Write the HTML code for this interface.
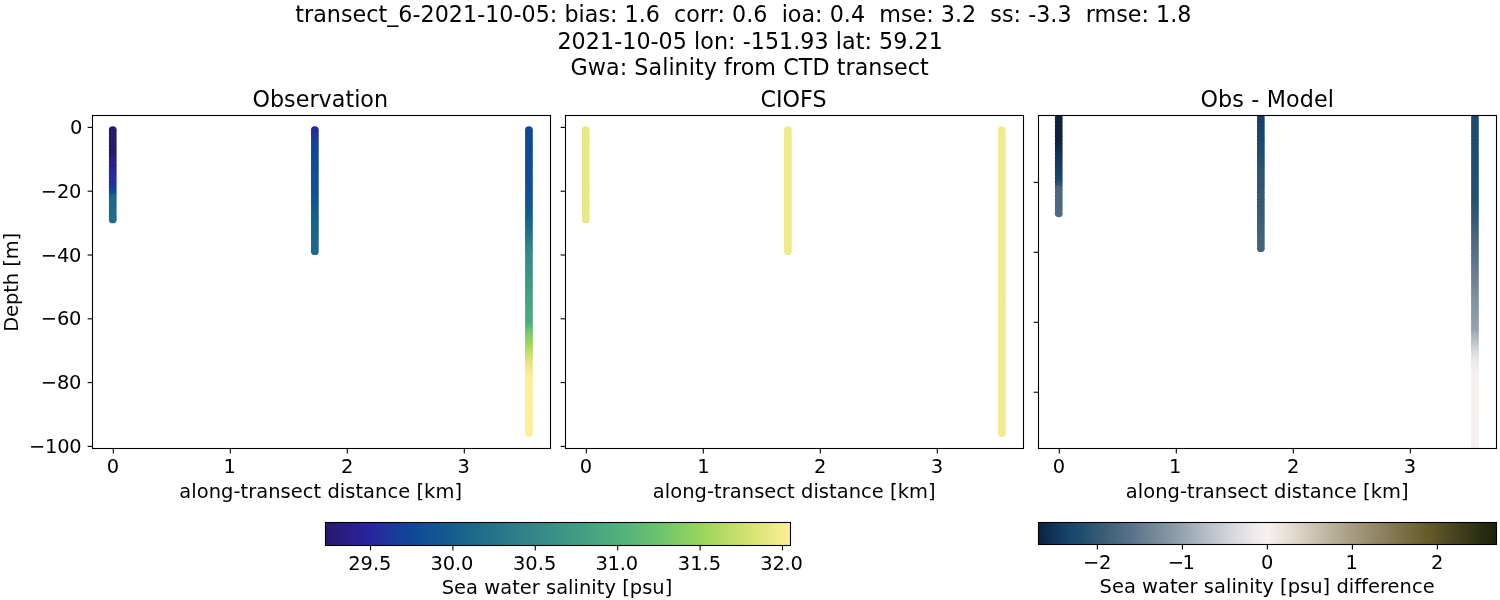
<!DOCTYPE html>
<html lang="en"><head><meta charset="utf-8"><title>transect_6-2021-10-05</title>
<style>html,body{margin:0;padding:0;background:#fff;}body{width:1500px;height:600px;overflow:hidden;}svg{display:block;}text{font-family:"DejaVu Sans", "Liberation Sans", sans-serif;fill:#000;}</style></head><body>
<svg width="1500" height="600" viewBox="0 0 1500 600">
<rect width="1500" height="600" fill="#fff"/>
<defs>
<linearGradient id="gh" x1="0" y1="0" x2="1" y2="0">
<stop offset="0.0000" stop-color="#29186b"/>
<stop offset="0.0156" stop-color="#291a74"/>
<stop offset="0.0312" stop-color="#291c7d"/>
<stop offset="0.0469" stop-color="#2a1e86"/>
<stop offset="0.0625" stop-color="#2a208f"/>
<stop offset="0.0781" stop-color="#2a2199"/>
<stop offset="0.0938" stop-color="#2924a0"/>
<stop offset="0.1094" stop-color="#252a9f"/>
<stop offset="0.1250" stop-color="#20309d"/>
<stop offset="0.1406" stop-color="#1b379c"/>
<stop offset="0.1562" stop-color="#173d9b"/>
<stop offset="0.1719" stop-color="#12439a"/>
<stop offset="0.1875" stop-color="#0f4898"/>
<stop offset="0.2031" stop-color="#104d96"/>
<stop offset="0.2188" stop-color="#105195"/>
<stop offset="0.2344" stop-color="#115593"/>
<stop offset="0.2500" stop-color="#115991"/>
<stop offset="0.2656" stop-color="#125d8f"/>
<stop offset="0.2812" stop-color="#14618e"/>
<stop offset="0.2969" stop-color="#17658d"/>
<stop offset="0.3125" stop-color="#1b688c"/>
<stop offset="0.3281" stop-color="#1e6c8b"/>
<stop offset="0.3438" stop-color="#226f8a"/>
<stop offset="0.3594" stop-color="#257389"/>
<stop offset="0.3750" stop-color="#287689"/>
<stop offset="0.3906" stop-color="#2a7a89"/>
<stop offset="0.4062" stop-color="#2d7d89"/>
<stop offset="0.4219" stop-color="#308188"/>
<stop offset="0.4375" stop-color="#328488"/>
<stop offset="0.4531" stop-color="#358888"/>
<stop offset="0.4688" stop-color="#378b88"/>
<stop offset="0.4844" stop-color="#398f87"/>
<stop offset="0.5000" stop-color="#3b9286"/>
<stop offset="0.5156" stop-color="#3d9686"/>
<stop offset="0.5312" stop-color="#3f9a85"/>
<stop offset="0.5469" stop-color="#419d85"/>
<stop offset="0.5625" stop-color="#44a183"/>
<stop offset="0.5781" stop-color="#47a582"/>
<stop offset="0.5938" stop-color="#4aa880"/>
<stop offset="0.6094" stop-color="#4cac7f"/>
<stop offset="0.6250" stop-color="#4faf7d"/>
<stop offset="0.6406" stop-color="#52b37b"/>
<stop offset="0.6562" stop-color="#58b678"/>
<stop offset="0.6719" stop-color="#5dba75"/>
<stop offset="0.6875" stop-color="#62bd72"/>
<stop offset="0.7031" stop-color="#67c170"/>
<stop offset="0.7188" stop-color="#6cc46d"/>
<stop offset="0.7344" stop-color="#73c76a"/>
<stop offset="0.7500" stop-color="#7bca67"/>
<stop offset="0.7656" stop-color="#84cd64"/>
<stop offset="0.7812" stop-color="#8cd062"/>
<stop offset="0.7969" stop-color="#95d25f"/>
<stop offset="0.8125" stop-color="#9dd55c"/>
<stop offset="0.8281" stop-color="#a6d75d"/>
<stop offset="0.8438" stop-color="#afd961"/>
<stop offset="0.8594" stop-color="#b8db65"/>
<stop offset="0.8750" stop-color="#c0dd68"/>
<stop offset="0.8906" stop-color="#c9df6c"/>
<stop offset="0.9062" stop-color="#d2e16f"/>
<stop offset="0.9219" stop-color="#dae376"/>
<stop offset="0.9375" stop-color="#e1e57d"/>
<stop offset="0.9531" stop-color="#e8e784"/>
<stop offset="0.9688" stop-color="#efea8b"/>
<stop offset="0.9844" stop-color="#f6ec92"/>
<stop offset="1.0000" stop-color="#fdee99"/>
</linearGradient>
<linearGradient id="gd" x1="0" y1="0" x2="1" y2="0">
<stop offset="0.0000" stop-color="#0b2340"/>
<stop offset="0.0156" stop-color="#0e2b4c"/>
<stop offset="0.0312" stop-color="#123358"/>
<stop offset="0.0469" stop-color="#143b60"/>
<stop offset="0.0625" stop-color="#174268"/>
<stop offset="0.0781" stop-color="#1a486c"/>
<stop offset="0.0938" stop-color="#1e4d6e"/>
<stop offset="0.1094" stop-color="#295371"/>
<stop offset="0.1250" stop-color="#325873"/>
<stop offset="0.1406" stop-color="#3a5d76"/>
<stop offset="0.1562" stop-color="#41637a"/>
<stop offset="0.1719" stop-color="#48687f"/>
<stop offset="0.1875" stop-color="#506d85"/>
<stop offset="0.2031" stop-color="#58728b"/>
<stop offset="0.2188" stop-color="#61798f"/>
<stop offset="0.2344" stop-color="#6a8093"/>
<stop offset="0.2500" stop-color="#728797"/>
<stop offset="0.2656" stop-color="#7a8e9d"/>
<stop offset="0.2812" stop-color="#8294a2"/>
<stop offset="0.2969" stop-color="#8b9ca8"/>
<stop offset="0.3125" stop-color="#94a3ae"/>
<stop offset="0.3281" stop-color="#9eabb5"/>
<stop offset="0.3438" stop-color="#a8b3bc"/>
<stop offset="0.3594" stop-color="#b2bac3"/>
<stop offset="0.3750" stop-color="#bbc2c9"/>
<stop offset="0.3906" stop-color="#c4c9d0"/>
<stop offset="0.4062" stop-color="#cdd1d6"/>
<stop offset="0.4219" stop-color="#d5d8dc"/>
<stop offset="0.4375" stop-color="#dddee1"/>
<stop offset="0.4531" stop-color="#e4e4e6"/>
<stop offset="0.4688" stop-color="#ece9ea"/>
<stop offset="0.4844" stop-color="#f1eeed"/>
<stop offset="0.5000" stop-color="#f6f1ef"/>
<stop offset="0.5156" stop-color="#f0ebe7"/>
<stop offset="0.5312" stop-color="#ebe5de"/>
<stop offset="0.5469" stop-color="#e5ded5"/>
<stop offset="0.5625" stop-color="#ded7cb"/>
<stop offset="0.5781" stop-color="#d7d0c1"/>
<stop offset="0.5938" stop-color="#d0c8b7"/>
<stop offset="0.6094" stop-color="#c8c0ad"/>
<stop offset="0.6250" stop-color="#c1b9a3"/>
<stop offset="0.6406" stop-color="#bab19a"/>
<stop offset="0.6562" stop-color="#b3aa91"/>
<stop offset="0.6719" stop-color="#aca288"/>
<stop offset="0.6875" stop-color="#a69b80"/>
<stop offset="0.7031" stop-color="#a09577"/>
<stop offset="0.7188" stop-color="#998e6f"/>
<stop offset="0.7344" stop-color="#938767"/>
<stop offset="0.7500" stop-color="#8e8261"/>
<stop offset="0.7656" stop-color="#877b57"/>
<stop offset="0.7812" stop-color="#80754c"/>
<stop offset="0.7969" stop-color="#7a6f44"/>
<stop offset="0.8125" stop-color="#75693d"/>
<stop offset="0.8281" stop-color="#6f6335"/>
<stop offset="0.8438" stop-color="#685c2b"/>
<stop offset="0.8594" stop-color="#615728"/>
<stop offset="0.8750" stop-color="#595225"/>
<stop offset="0.8906" stop-color="#504b23"/>
<stop offset="0.9062" stop-color="#484520"/>
<stop offset="0.9219" stop-color="#413e1d"/>
<stop offset="0.9375" stop-color="#393919"/>
<stop offset="0.9531" stop-color="#313316"/>
<stop offset="0.9688" stop-color="#292c12"/>
<stop offset="0.9844" stop-color="#22270f"/>
<stop offset="1.0000" stop-color="#1c220c"/>
</linearGradient>
<clipPath id="c0"><rect x="92.50" y="115.50" width="458.00" height="333.00"/></clipPath>
<clipPath id="c1"><rect x="565.50" y="115.50" width="458.00" height="333.00"/></clipPath>
<clipPath id="c2"><rect x="1038.50" y="115.50" width="458.00" height="333.00"/></clipPath>
</defs>
<g clip-path="url(#c0)">
<circle cx="112.75" cy="130.27" r="3.90" fill="#29186b"/>
<circle cx="112.75" cy="133.46" r="3.90" fill="#29186b"/>
<circle cx="112.75" cy="136.64" r="3.90" fill="#29186b"/>
<circle cx="112.75" cy="139.82" r="3.90" fill="#29186b"/>
<circle cx="112.75" cy="143.01" r="3.90" fill="#29186b"/>
<circle cx="112.75" cy="146.19" r="3.90" fill="#29186b"/>
<circle cx="112.75" cy="149.38" r="3.90" fill="#29186b"/>
<circle cx="112.75" cy="152.56" r="3.90" fill="#29186b"/>
<circle cx="112.75" cy="155.75" r="3.90" fill="#291971"/>
<circle cx="112.75" cy="158.93" r="3.90" fill="#291c7e"/>
<circle cx="112.75" cy="162.11" r="3.90" fill="#2a1e89"/>
<circle cx="112.75" cy="165.30" r="3.90" fill="#2a1f8f"/>
<circle cx="112.75" cy="168.48" r="3.90" fill="#2a2194"/>
<circle cx="112.75" cy="171.67" r="3.90" fill="#2a229b"/>
<circle cx="112.75" cy="174.85" r="3.90" fill="#2925a0"/>
<circle cx="112.75" cy="178.04" r="3.90" fill="#252a9f"/>
<circle cx="112.75" cy="181.22" r="3.90" fill="#222e9e"/>
<circle cx="112.75" cy="184.40" r="3.90" fill="#1e349d"/>
<circle cx="112.75" cy="187.59" r="3.90" fill="#19399c"/>
<circle cx="112.75" cy="190.77" r="3.90" fill="#14409a"/>
<circle cx="112.75" cy="193.96" r="3.90" fill="#0f4b97"/>
<circle cx="112.75" cy="197.14" r="3.90" fill="#16648d"/>
<circle cx="112.75" cy="200.33" r="3.90" fill="#1a688c"/>
<circle cx="112.75" cy="203.51" r="3.90" fill="#1c6a8b"/>
<circle cx="112.75" cy="206.69" r="3.90" fill="#1d6a8b"/>
<circle cx="112.75" cy="209.88" r="3.90" fill="#1d6b8b"/>
<circle cx="112.75" cy="213.06" r="3.90" fill="#1e6b8b"/>
<circle cx="112.75" cy="216.25" r="3.90" fill="#1e6c8b"/>
<circle cx="112.75" cy="219.43" r="3.90" fill="#1f6c8b"/>
<circle cx="314.85" cy="130.27" r="3.90" fill="#26289f"/>
<circle cx="314.85" cy="133.45" r="3.90" fill="#222d9e"/>
<circle cx="314.85" cy="136.63" r="3.90" fill="#1e339d"/>
<circle cx="314.85" cy="139.82" r="3.90" fill="#1a389c"/>
<circle cx="314.85" cy="143.00" r="3.90" fill="#163e9b"/>
<circle cx="314.85" cy="146.18" r="3.90" fill="#12439a"/>
<circle cx="314.85" cy="149.36" r="3.90" fill="#11449a"/>
<circle cx="314.85" cy="152.54" r="3.90" fill="#104599"/>
<circle cx="314.85" cy="155.72" r="3.90" fill="#0f4799"/>
<circle cx="314.85" cy="158.91" r="3.90" fill="#0f4899"/>
<circle cx="314.85" cy="162.09" r="3.90" fill="#0f4998"/>
<circle cx="314.85" cy="165.27" r="3.90" fill="#0f4a98"/>
<circle cx="314.85" cy="168.45" r="3.90" fill="#0f4a97"/>
<circle cx="314.85" cy="171.63" r="3.90" fill="#104b97"/>
<circle cx="314.85" cy="174.81" r="3.90" fill="#104c97"/>
<circle cx="314.85" cy="178.00" r="3.90" fill="#104d96"/>
<circle cx="314.85" cy="181.18" r="3.90" fill="#104e96"/>
<circle cx="314.85" cy="184.36" r="3.90" fill="#104f95"/>
<circle cx="314.85" cy="187.54" r="3.90" fill="#105095"/>
<circle cx="314.85" cy="190.72" r="3.90" fill="#105095"/>
<circle cx="314.85" cy="193.90" r="3.90" fill="#105194"/>
<circle cx="314.85" cy="197.08" r="3.90" fill="#115393"/>
<circle cx="314.85" cy="200.27" r="3.90" fill="#115593"/>
<circle cx="314.85" cy="203.45" r="3.90" fill="#115792"/>
<circle cx="314.85" cy="206.63" r="3.90" fill="#115991"/>
<circle cx="314.85" cy="209.81" r="3.90" fill="#115b90"/>
<circle cx="314.85" cy="212.99" r="3.90" fill="#125d8f"/>
<circle cx="314.85" cy="216.17" r="3.90" fill="#125e8e"/>
<circle cx="314.85" cy="219.36" r="3.90" fill="#12608e"/>
<circle cx="314.85" cy="222.54" r="3.90" fill="#14618e"/>
<circle cx="314.85" cy="225.72" r="3.90" fill="#15628d"/>
<circle cx="314.85" cy="228.90" r="3.90" fill="#16638d"/>
<circle cx="314.85" cy="232.08" r="3.90" fill="#17648d"/>
<circle cx="314.85" cy="235.26" r="3.90" fill="#18658d"/>
<circle cx="314.85" cy="238.45" r="3.90" fill="#18668c"/>
<circle cx="314.85" cy="241.63" r="3.90" fill="#19678c"/>
<circle cx="314.85" cy="244.81" r="3.90" fill="#1a678c"/>
<circle cx="314.85" cy="247.99" r="3.90" fill="#1b688c"/>
<circle cx="314.85" cy="251.17" r="3.90" fill="#1c698c"/>
<circle cx="528.95" cy="130.27" r="3.90" fill="#0f4898"/>
<circle cx="528.95" cy="133.46" r="3.90" fill="#0f4998"/>
<circle cx="528.95" cy="136.64" r="3.90" fill="#0f4998"/>
<circle cx="528.95" cy="139.83" r="3.90" fill="#0f4998"/>
<circle cx="528.95" cy="143.02" r="3.90" fill="#0f4a98"/>
<circle cx="528.95" cy="146.20" r="3.90" fill="#0f4a98"/>
<circle cx="528.95" cy="149.39" r="3.90" fill="#0f4a98"/>
<circle cx="528.95" cy="152.58" r="3.90" fill="#0f4a97"/>
<circle cx="528.95" cy="155.76" r="3.90" fill="#0f4b97"/>
<circle cx="528.95" cy="158.95" r="3.90" fill="#0f4b97"/>
<circle cx="528.95" cy="162.14" r="3.90" fill="#104b97"/>
<circle cx="528.95" cy="165.32" r="3.90" fill="#104c97"/>
<circle cx="528.95" cy="168.51" r="3.90" fill="#104c97"/>
<circle cx="528.95" cy="171.70" r="3.90" fill="#104c97"/>
<circle cx="528.95" cy="174.88" r="3.90" fill="#104c97"/>
<circle cx="528.95" cy="178.07" r="3.90" fill="#104d96"/>
<circle cx="528.95" cy="181.26" r="3.90" fill="#104d96"/>
<circle cx="528.95" cy="184.44" r="3.90" fill="#104d96"/>
<circle cx="528.95" cy="187.63" r="3.90" fill="#104e96"/>
<circle cx="528.95" cy="190.82" r="3.90" fill="#104f95"/>
<circle cx="528.95" cy="194.00" r="3.90" fill="#105095"/>
<circle cx="528.95" cy="197.19" r="3.90" fill="#105195"/>
<circle cx="528.95" cy="200.38" r="3.90" fill="#105394"/>
<circle cx="528.95" cy="203.56" r="3.90" fill="#115593"/>
<circle cx="528.95" cy="206.75" r="3.90" fill="#115891"/>
<circle cx="528.95" cy="209.94" r="3.90" fill="#115a90"/>
<circle cx="528.95" cy="213.12" r="3.90" fill="#125d8f"/>
<circle cx="528.95" cy="216.31" r="3.90" fill="#125f8e"/>
<circle cx="528.95" cy="219.50" r="3.90" fill="#15628d"/>
<circle cx="528.95" cy="222.68" r="3.90" fill="#18658d"/>
<circle cx="528.95" cy="225.87" r="3.90" fill="#1b688c"/>
<circle cx="528.95" cy="229.06" r="3.90" fill="#1e6c8b"/>
<circle cx="528.95" cy="232.24" r="3.90" fill="#216f8a"/>
<circle cx="528.95" cy="235.43" r="3.90" fill="#247289"/>
<circle cx="528.95" cy="238.62" r="3.90" fill="#277689"/>
<circle cx="528.95" cy="241.80" r="3.90" fill="#2a7a89"/>
<circle cx="528.95" cy="244.99" r="3.90" fill="#2d7e89"/>
<circle cx="528.95" cy="248.18" r="3.90" fill="#308288"/>
<circle cx="528.95" cy="251.36" r="3.90" fill="#338688"/>
<circle cx="528.95" cy="254.55" r="3.90" fill="#358988"/>
<circle cx="528.95" cy="257.74" r="3.90" fill="#368a88"/>
<circle cx="528.95" cy="260.92" r="3.90" fill="#378c87"/>
<circle cx="528.95" cy="264.11" r="3.90" fill="#388e87"/>
<circle cx="528.95" cy="267.30" r="3.90" fill="#398f87"/>
<circle cx="528.95" cy="270.48" r="3.90" fill="#3a9187"/>
<circle cx="528.95" cy="273.67" r="3.90" fill="#3b9386"/>
<circle cx="528.95" cy="276.86" r="3.90" fill="#3c9486"/>
<circle cx="528.95" cy="280.04" r="3.90" fill="#3d9686"/>
<circle cx="528.95" cy="283.23" r="3.90" fill="#3e9886"/>
<circle cx="528.95" cy="286.42" r="3.90" fill="#3f9a85"/>
<circle cx="528.95" cy="289.60" r="3.90" fill="#409b85"/>
<circle cx="528.95" cy="292.79" r="3.90" fill="#419d85"/>
<circle cx="528.95" cy="295.98" r="3.90" fill="#429f84"/>
<circle cx="528.95" cy="299.16" r="3.90" fill="#44a084"/>
<circle cx="528.95" cy="302.35" r="3.90" fill="#45a283"/>
<circle cx="528.95" cy="305.54" r="3.90" fill="#46a482"/>
<circle cx="528.95" cy="308.72" r="3.90" fill="#47a581"/>
<circle cx="528.95" cy="311.91" r="3.90" fill="#49a781"/>
<circle cx="528.95" cy="315.10" r="3.90" fill="#4aa980"/>
<circle cx="528.95" cy="318.28" r="3.90" fill="#4baa7f"/>
<circle cx="528.95" cy="321.47" r="3.90" fill="#4dac7f"/>
<circle cx="528.95" cy="324.66" r="3.90" fill="#4eae7e"/>
<circle cx="528.95" cy="327.84" r="3.90" fill="#58b778"/>
<circle cx="528.95" cy="331.03" r="3.90" fill="#68c16f"/>
<circle cx="528.95" cy="334.22" r="3.90" fill="#75c869"/>
<circle cx="528.95" cy="337.40" r="3.90" fill="#84cd64"/>
<circle cx="528.95" cy="340.59" r="3.90" fill="#8ed061"/>
<circle cx="528.95" cy="343.78" r="3.90" fill="#98d45d"/>
<circle cx="528.95" cy="346.96" r="3.90" fill="#a3d75c"/>
<circle cx="528.95" cy="350.15" r="3.90" fill="#b1da62"/>
<circle cx="528.95" cy="353.34" r="3.90" fill="#bedc67"/>
<circle cx="528.95" cy="356.52" r="3.90" fill="#cbdf6c"/>
<circle cx="528.95" cy="359.71" r="3.90" fill="#d6e272"/>
<circle cx="528.95" cy="362.90" r="3.90" fill="#dfe57b"/>
<circle cx="528.95" cy="366.08" r="3.90" fill="#e8e784"/>
<circle cx="528.95" cy="369.27" r="3.90" fill="#ede989"/>
<circle cx="528.95" cy="372.46" r="3.90" fill="#f2eb8e"/>
<circle cx="528.95" cy="375.64" r="3.90" fill="#f7ec93"/>
<circle cx="528.95" cy="378.83" r="3.90" fill="#faed96"/>
<circle cx="528.95" cy="382.02" r="3.90" fill="#fcee98"/>
<circle cx="528.95" cy="385.20" r="3.90" fill="#fdee99"/>
<circle cx="528.95" cy="388.39" r="3.90" fill="#fdee99"/>
<circle cx="528.95" cy="391.58" r="3.90" fill="#fdee99"/>
<circle cx="528.95" cy="394.76" r="3.90" fill="#fdee99"/>
<circle cx="528.95" cy="397.95" r="3.90" fill="#fdee99"/>
<circle cx="528.95" cy="401.14" r="3.90" fill="#fdee99"/>
<circle cx="528.95" cy="404.32" r="3.90" fill="#fdee99"/>
<circle cx="528.95" cy="407.51" r="3.90" fill="#fdee99"/>
<circle cx="528.95" cy="410.70" r="3.90" fill="#fdee99"/>
<circle cx="528.95" cy="413.88" r="3.90" fill="#fdee99"/>
<circle cx="528.95" cy="417.07" r="3.90" fill="#fdee99"/>
<circle cx="528.95" cy="420.26" r="3.90" fill="#fdee99"/>
<circle cx="528.95" cy="423.44" r="3.90" fill="#fdee99"/>
<circle cx="528.95" cy="426.63" r="3.90" fill="#fdee99"/>
<circle cx="528.95" cy="429.82" r="3.90" fill="#fdee99"/>
<circle cx="528.95" cy="433.00" r="3.90" fill="#fdee99"/>
</g>
<rect x="92.50" y="115.50" width="458.00" height="333.00" fill="none" stroke="#000" stroke-width="1.10"/>
<line x1="113.30" y1="448.50" x2="113.30" y2="453.40" stroke="#000" stroke-width="1.10"/>
<line x1="230.30" y1="448.50" x2="230.30" y2="453.40" stroke="#000" stroke-width="1.10"/>
<line x1="347.30" y1="448.50" x2="347.30" y2="453.40" stroke="#000" stroke-width="1.10"/>
<line x1="464.30" y1="448.50" x2="464.30" y2="453.40" stroke="#000" stroke-width="1.10"/>
<line x1="87.60" y1="127.40" x2="92.50" y2="127.40" stroke="#000" stroke-width="1.10"/>
<line x1="87.60" y1="191.20" x2="92.50" y2="191.20" stroke="#000" stroke-width="1.10"/>
<line x1="87.60" y1="255.00" x2="92.50" y2="255.00" stroke="#000" stroke-width="1.10"/>
<line x1="87.60" y1="318.80" x2="92.50" y2="318.80" stroke="#000" stroke-width="1.10"/>
<line x1="87.60" y1="382.60" x2="92.50" y2="382.60" stroke="#000" stroke-width="1.10"/>
<line x1="87.60" y1="446.40" x2="92.50" y2="446.40" stroke="#000" stroke-width="1.10"/>
<g clip-path="url(#c1)">
<circle cx="585.75" cy="130.27" r="3.90" fill="#e9e885"/>
<circle cx="585.75" cy="133.46" r="3.90" fill="#e9e885"/>
<circle cx="585.75" cy="136.64" r="3.90" fill="#e9e885"/>
<circle cx="585.75" cy="139.82" r="3.90" fill="#e9e885"/>
<circle cx="585.75" cy="143.01" r="3.90" fill="#e9e885"/>
<circle cx="585.75" cy="146.19" r="3.90" fill="#e9e885"/>
<circle cx="585.75" cy="149.38" r="3.90" fill="#e9e885"/>
<circle cx="585.75" cy="152.56" r="3.90" fill="#e9e885"/>
<circle cx="585.75" cy="155.75" r="3.90" fill="#e9e885"/>
<circle cx="585.75" cy="158.93" r="3.90" fill="#e9e885"/>
<circle cx="585.75" cy="162.11" r="3.90" fill="#e9e885"/>
<circle cx="585.75" cy="165.30" r="3.90" fill="#e9e885"/>
<circle cx="585.75" cy="168.48" r="3.90" fill="#e9e885"/>
<circle cx="585.75" cy="171.67" r="3.90" fill="#e9e885"/>
<circle cx="585.75" cy="174.85" r="3.90" fill="#e9e885"/>
<circle cx="585.75" cy="178.04" r="3.90" fill="#e9e885"/>
<circle cx="585.75" cy="181.22" r="3.90" fill="#e9e885"/>
<circle cx="585.75" cy="184.40" r="3.90" fill="#e9e885"/>
<circle cx="585.75" cy="187.59" r="3.90" fill="#e9e885"/>
<circle cx="585.75" cy="190.77" r="3.90" fill="#e9e885"/>
<circle cx="585.75" cy="193.96" r="3.90" fill="#e9e885"/>
<circle cx="585.75" cy="197.14" r="3.90" fill="#e9e885"/>
<circle cx="585.75" cy="200.33" r="3.90" fill="#e9e885"/>
<circle cx="585.75" cy="203.51" r="3.90" fill="#e9e885"/>
<circle cx="585.75" cy="206.69" r="3.90" fill="#e9e885"/>
<circle cx="585.75" cy="209.88" r="3.90" fill="#e9e885"/>
<circle cx="585.75" cy="213.06" r="3.90" fill="#e9e885"/>
<circle cx="585.75" cy="216.25" r="3.90" fill="#e9e885"/>
<circle cx="585.75" cy="219.43" r="3.90" fill="#e9e885"/>
<circle cx="787.85" cy="130.27" r="3.90" fill="#eee98a"/>
<circle cx="787.85" cy="133.45" r="3.90" fill="#eee98a"/>
<circle cx="787.85" cy="136.63" r="3.90" fill="#eee98a"/>
<circle cx="787.85" cy="139.82" r="3.90" fill="#eee98a"/>
<circle cx="787.85" cy="143.00" r="3.90" fill="#eee98a"/>
<circle cx="787.85" cy="146.18" r="3.90" fill="#eee98a"/>
<circle cx="787.85" cy="149.36" r="3.90" fill="#eee98a"/>
<circle cx="787.85" cy="152.54" r="3.90" fill="#eee98a"/>
<circle cx="787.85" cy="155.72" r="3.90" fill="#eee98a"/>
<circle cx="787.85" cy="158.91" r="3.90" fill="#eee98a"/>
<circle cx="787.85" cy="162.09" r="3.90" fill="#eee98a"/>
<circle cx="787.85" cy="165.27" r="3.90" fill="#eee98a"/>
<circle cx="787.85" cy="168.45" r="3.90" fill="#eee98a"/>
<circle cx="787.85" cy="171.63" r="3.90" fill="#eee98a"/>
<circle cx="787.85" cy="174.81" r="3.90" fill="#eee98a"/>
<circle cx="787.85" cy="178.00" r="3.90" fill="#eee98a"/>
<circle cx="787.85" cy="181.18" r="3.90" fill="#eee98a"/>
<circle cx="787.85" cy="184.36" r="3.90" fill="#eee98a"/>
<circle cx="787.85" cy="187.54" r="3.90" fill="#eee98a"/>
<circle cx="787.85" cy="190.72" r="3.90" fill="#eee98a"/>
<circle cx="787.85" cy="193.90" r="3.90" fill="#eee98a"/>
<circle cx="787.85" cy="197.08" r="3.90" fill="#eee98a"/>
<circle cx="787.85" cy="200.27" r="3.90" fill="#eee98a"/>
<circle cx="787.85" cy="203.45" r="3.90" fill="#eee98a"/>
<circle cx="787.85" cy="206.63" r="3.90" fill="#eee98a"/>
<circle cx="787.85" cy="209.81" r="3.90" fill="#eee98a"/>
<circle cx="787.85" cy="212.99" r="3.90" fill="#eee98a"/>
<circle cx="787.85" cy="216.17" r="3.90" fill="#eee98a"/>
<circle cx="787.85" cy="219.36" r="3.90" fill="#eee98a"/>
<circle cx="787.85" cy="222.54" r="3.90" fill="#eee98a"/>
<circle cx="787.85" cy="225.72" r="3.90" fill="#eee98a"/>
<circle cx="787.85" cy="228.90" r="3.90" fill="#eee98a"/>
<circle cx="787.85" cy="232.08" r="3.90" fill="#eee98a"/>
<circle cx="787.85" cy="235.26" r="3.90" fill="#eee98a"/>
<circle cx="787.85" cy="238.45" r="3.90" fill="#eee98a"/>
<circle cx="787.85" cy="241.63" r="3.90" fill="#eee98a"/>
<circle cx="787.85" cy="244.81" r="3.90" fill="#eee98a"/>
<circle cx="787.85" cy="247.99" r="3.90" fill="#eee98a"/>
<circle cx="787.85" cy="251.17" r="3.90" fill="#eee98a"/>
<circle cx="1001.95" cy="130.27" r="3.90" fill="#f3eb8f"/>
<circle cx="1001.95" cy="133.46" r="3.90" fill="#f3eb8f"/>
<circle cx="1001.95" cy="136.64" r="3.90" fill="#f3eb8f"/>
<circle cx="1001.95" cy="139.83" r="3.90" fill="#f3eb8f"/>
<circle cx="1001.95" cy="143.02" r="3.90" fill="#f3eb8f"/>
<circle cx="1001.95" cy="146.20" r="3.90" fill="#f3eb8f"/>
<circle cx="1001.95" cy="149.39" r="3.90" fill="#f3eb8f"/>
<circle cx="1001.95" cy="152.58" r="3.90" fill="#f3eb8f"/>
<circle cx="1001.95" cy="155.76" r="3.90" fill="#f3eb8f"/>
<circle cx="1001.95" cy="158.95" r="3.90" fill="#f3eb8f"/>
<circle cx="1001.95" cy="162.14" r="3.90" fill="#f3eb8f"/>
<circle cx="1001.95" cy="165.32" r="3.90" fill="#f3eb8f"/>
<circle cx="1001.95" cy="168.51" r="3.90" fill="#f3eb8f"/>
<circle cx="1001.95" cy="171.70" r="3.90" fill="#f3eb8f"/>
<circle cx="1001.95" cy="174.88" r="3.90" fill="#f3eb8f"/>
<circle cx="1001.95" cy="178.07" r="3.90" fill="#f3eb8f"/>
<circle cx="1001.95" cy="181.26" r="3.90" fill="#f3eb8f"/>
<circle cx="1001.95" cy="184.44" r="3.90" fill="#f3eb8f"/>
<circle cx="1001.95" cy="187.63" r="3.90" fill="#f3eb8f"/>
<circle cx="1001.95" cy="190.82" r="3.90" fill="#f3eb8f"/>
<circle cx="1001.95" cy="194.00" r="3.90" fill="#f3eb8f"/>
<circle cx="1001.95" cy="197.19" r="3.90" fill="#f3eb8f"/>
<circle cx="1001.95" cy="200.38" r="3.90" fill="#f3eb8f"/>
<circle cx="1001.95" cy="203.56" r="3.90" fill="#f3eb8f"/>
<circle cx="1001.95" cy="206.75" r="3.90" fill="#f3eb8f"/>
<circle cx="1001.95" cy="209.94" r="3.90" fill="#f3eb8f"/>
<circle cx="1001.95" cy="213.12" r="3.90" fill="#f3eb8f"/>
<circle cx="1001.95" cy="216.31" r="3.90" fill="#f3eb8f"/>
<circle cx="1001.95" cy="219.50" r="3.90" fill="#f3eb8f"/>
<circle cx="1001.95" cy="222.68" r="3.90" fill="#f3eb8f"/>
<circle cx="1001.95" cy="225.87" r="3.90" fill="#f3eb8f"/>
<circle cx="1001.95" cy="229.06" r="3.90" fill="#f3eb8f"/>
<circle cx="1001.95" cy="232.24" r="3.90" fill="#f3eb8f"/>
<circle cx="1001.95" cy="235.43" r="3.90" fill="#f3eb8f"/>
<circle cx="1001.95" cy="238.62" r="3.90" fill="#f3eb8f"/>
<circle cx="1001.95" cy="241.80" r="3.90" fill="#f3eb8f"/>
<circle cx="1001.95" cy="244.99" r="3.90" fill="#f3eb8f"/>
<circle cx="1001.95" cy="248.18" r="3.90" fill="#f3eb8f"/>
<circle cx="1001.95" cy="251.36" r="3.90" fill="#f3eb8f"/>
<circle cx="1001.95" cy="254.55" r="3.90" fill="#f3eb8f"/>
<circle cx="1001.95" cy="257.74" r="3.90" fill="#f3eb8f"/>
<circle cx="1001.95" cy="260.92" r="3.90" fill="#f3eb8f"/>
<circle cx="1001.95" cy="264.11" r="3.90" fill="#f3eb8f"/>
<circle cx="1001.95" cy="267.30" r="3.90" fill="#f3eb8f"/>
<circle cx="1001.95" cy="270.48" r="3.90" fill="#f3eb8f"/>
<circle cx="1001.95" cy="273.67" r="3.90" fill="#f3eb8f"/>
<circle cx="1001.95" cy="276.86" r="3.90" fill="#f3eb8f"/>
<circle cx="1001.95" cy="280.04" r="3.90" fill="#f3eb8f"/>
<circle cx="1001.95" cy="283.23" r="3.90" fill="#f3eb8f"/>
<circle cx="1001.95" cy="286.42" r="3.90" fill="#f3eb8f"/>
<circle cx="1001.95" cy="289.60" r="3.90" fill="#f3eb8f"/>
<circle cx="1001.95" cy="292.79" r="3.90" fill="#f3eb8f"/>
<circle cx="1001.95" cy="295.98" r="3.90" fill="#f3eb8f"/>
<circle cx="1001.95" cy="299.16" r="3.90" fill="#f3eb8f"/>
<circle cx="1001.95" cy="302.35" r="3.90" fill="#f3eb8f"/>
<circle cx="1001.95" cy="305.54" r="3.90" fill="#f3eb8f"/>
<circle cx="1001.95" cy="308.72" r="3.90" fill="#f3eb8f"/>
<circle cx="1001.95" cy="311.91" r="3.90" fill="#f3eb8f"/>
<circle cx="1001.95" cy="315.10" r="3.90" fill="#f3eb8f"/>
<circle cx="1001.95" cy="318.28" r="3.90" fill="#f3eb8f"/>
<circle cx="1001.95" cy="321.47" r="3.90" fill="#f3eb8f"/>
<circle cx="1001.95" cy="324.66" r="3.90" fill="#f3eb8f"/>
<circle cx="1001.95" cy="327.84" r="3.90" fill="#f3eb8f"/>
<circle cx="1001.95" cy="331.03" r="3.90" fill="#f3eb8f"/>
<circle cx="1001.95" cy="334.22" r="3.90" fill="#f3eb8f"/>
<circle cx="1001.95" cy="337.40" r="3.90" fill="#f3eb8f"/>
<circle cx="1001.95" cy="340.59" r="3.90" fill="#f3eb8f"/>
<circle cx="1001.95" cy="343.78" r="3.90" fill="#f3eb8f"/>
<circle cx="1001.95" cy="346.96" r="3.90" fill="#f3eb8f"/>
<circle cx="1001.95" cy="350.15" r="3.90" fill="#f3eb8f"/>
<circle cx="1001.95" cy="353.34" r="3.90" fill="#f3eb8f"/>
<circle cx="1001.95" cy="356.52" r="3.90" fill="#f3eb8f"/>
<circle cx="1001.95" cy="359.71" r="3.90" fill="#f3eb8f"/>
<circle cx="1001.95" cy="362.90" r="3.90" fill="#f3eb8f"/>
<circle cx="1001.95" cy="366.08" r="3.90" fill="#f3eb8f"/>
<circle cx="1001.95" cy="369.27" r="3.90" fill="#f3eb8f"/>
<circle cx="1001.95" cy="372.46" r="3.90" fill="#f3eb8f"/>
<circle cx="1001.95" cy="375.64" r="3.90" fill="#f3eb8f"/>
<circle cx="1001.95" cy="378.83" r="3.90" fill="#f3eb8f"/>
<circle cx="1001.95" cy="382.02" r="3.90" fill="#f3eb8f"/>
<circle cx="1001.95" cy="385.20" r="3.90" fill="#f3eb8f"/>
<circle cx="1001.95" cy="388.39" r="3.90" fill="#f3eb8f"/>
<circle cx="1001.95" cy="391.58" r="3.90" fill="#f3eb8f"/>
<circle cx="1001.95" cy="394.76" r="3.90" fill="#f3eb8f"/>
<circle cx="1001.95" cy="397.95" r="3.90" fill="#f3eb8f"/>
<circle cx="1001.95" cy="401.14" r="3.90" fill="#f3eb8f"/>
<circle cx="1001.95" cy="404.32" r="3.90" fill="#f3eb8f"/>
<circle cx="1001.95" cy="407.51" r="3.90" fill="#f3eb8f"/>
<circle cx="1001.95" cy="410.70" r="3.90" fill="#f3eb8f"/>
<circle cx="1001.95" cy="413.88" r="3.90" fill="#f3eb8f"/>
<circle cx="1001.95" cy="417.07" r="3.90" fill="#f3eb8f"/>
<circle cx="1001.95" cy="420.26" r="3.90" fill="#f3eb8f"/>
<circle cx="1001.95" cy="423.44" r="3.90" fill="#f3eb8f"/>
<circle cx="1001.95" cy="426.63" r="3.90" fill="#f3eb8f"/>
<circle cx="1001.95" cy="429.82" r="3.90" fill="#f3eb8f"/>
<circle cx="1001.95" cy="433.00" r="3.90" fill="#f3eb8f"/>
</g>
<rect x="565.50" y="115.50" width="458.00" height="333.00" fill="none" stroke="#000" stroke-width="1.10"/>
<line x1="586.30" y1="448.50" x2="586.30" y2="453.40" stroke="#000" stroke-width="1.10"/>
<line x1="703.30" y1="448.50" x2="703.30" y2="453.40" stroke="#000" stroke-width="1.10"/>
<line x1="820.30" y1="448.50" x2="820.30" y2="453.40" stroke="#000" stroke-width="1.10"/>
<line x1="937.30" y1="448.50" x2="937.30" y2="453.40" stroke="#000" stroke-width="1.10"/>
<line x1="560.60" y1="127.40" x2="565.50" y2="127.40" stroke="#000" stroke-width="1.10"/>
<line x1="560.60" y1="191.20" x2="565.50" y2="191.20" stroke="#000" stroke-width="1.10"/>
<line x1="560.60" y1="255.00" x2="565.50" y2="255.00" stroke="#000" stroke-width="1.10"/>
<line x1="560.60" y1="318.80" x2="565.50" y2="318.80" stroke="#000" stroke-width="1.10"/>
<line x1="560.60" y1="382.60" x2="565.50" y2="382.60" stroke="#000" stroke-width="1.10"/>
<line x1="560.60" y1="446.40" x2="565.50" y2="446.40" stroke="#000" stroke-width="1.10"/>
<g clip-path="url(#c2)">
<circle cx="1058.75" cy="115.60" r="3.90" fill="#0b2340"/>
<circle cx="1058.75" cy="119.09" r="3.90" fill="#0b2340"/>
<circle cx="1058.75" cy="122.58" r="3.90" fill="#0b2340"/>
<circle cx="1058.75" cy="126.07" r="3.90" fill="#0b2340"/>
<circle cx="1058.75" cy="129.56" r="3.90" fill="#0b2340"/>
<circle cx="1058.75" cy="133.05" r="3.90" fill="#0b2340"/>
<circle cx="1058.75" cy="136.55" r="3.90" fill="#0b2340"/>
<circle cx="1058.75" cy="140.04" r="3.90" fill="#0b2340"/>
<circle cx="1058.75" cy="143.53" r="3.90" fill="#0c2543"/>
<circle cx="1058.75" cy="147.02" r="3.90" fill="#0d2949"/>
<circle cx="1058.75" cy="150.51" r="3.90" fill="#0f2d4e"/>
<circle cx="1058.75" cy="154.00" r="3.90" fill="#113054"/>
<circle cx="1058.75" cy="157.49" r="3.90" fill="#123459"/>
<circle cx="1058.75" cy="160.98" r="3.90" fill="#13375d"/>
<circle cx="1058.75" cy="164.48" r="3.90" fill="#143b60"/>
<circle cx="1058.75" cy="167.97" r="3.90" fill="#153d63"/>
<circle cx="1058.75" cy="171.46" r="3.90" fill="#174066"/>
<circle cx="1058.75" cy="174.95" r="3.90" fill="#184369"/>
<circle cx="1058.75" cy="178.44" r="3.90" fill="#19466b"/>
<circle cx="1058.75" cy="181.93" r="3.90" fill="#1b486c"/>
<circle cx="1058.75" cy="185.42" r="3.90" fill="#2c5571"/>
<circle cx="1058.75" cy="188.91" r="3.90" fill="#46667d"/>
<circle cx="1058.75" cy="192.41" r="3.90" fill="#4a6980"/>
<circle cx="1058.75" cy="195.90" r="3.90" fill="#4a6981"/>
<circle cx="1058.75" cy="199.39" r="3.90" fill="#4b6981"/>
<circle cx="1058.75" cy="202.88" r="3.90" fill="#4b6981"/>
<circle cx="1058.75" cy="206.37" r="3.90" fill="#4b6a81"/>
<circle cx="1058.75" cy="209.86" r="3.90" fill="#4b6a81"/>
<circle cx="1058.75" cy="213.35" r="3.90" fill="#4c6a82"/>
<circle cx="1260.85" cy="115.60" r="3.90" fill="#163e64"/>
<circle cx="1260.85" cy="119.09" r="3.90" fill="#163f64"/>
<circle cx="1260.85" cy="122.57" r="3.90" fill="#174066"/>
<circle cx="1260.85" cy="126.06" r="3.90" fill="#174268"/>
<circle cx="1260.85" cy="129.55" r="3.90" fill="#18446a"/>
<circle cx="1260.85" cy="133.04" r="3.90" fill="#19456a"/>
<circle cx="1260.85" cy="136.53" r="3.90" fill="#19466b"/>
<circle cx="1260.85" cy="140.02" r="3.90" fill="#1a476c"/>
<circle cx="1260.85" cy="143.50" r="3.90" fill="#1b496c"/>
<circle cx="1260.85" cy="146.99" r="3.90" fill="#1c4a6d"/>
<circle cx="1260.85" cy="150.48" r="3.90" fill="#1c4b6d"/>
<circle cx="1260.85" cy="153.97" r="3.90" fill="#1d4c6e"/>
<circle cx="1260.85" cy="157.46" r="3.90" fill="#204e6f"/>
<circle cx="1260.85" cy="160.95" r="3.90" fill="#224f6f"/>
<circle cx="1260.85" cy="164.43" r="3.90" fill="#255170"/>
<circle cx="1260.85" cy="167.92" r="3.90" fill="#275270"/>
<circle cx="1260.85" cy="171.41" r="3.90" fill="#2a5471"/>
<circle cx="1260.85" cy="174.90" r="3.90" fill="#2c5571"/>
<circle cx="1260.85" cy="178.39" r="3.90" fill="#2d5572"/>
<circle cx="1260.85" cy="181.88" r="3.90" fill="#2e5672"/>
<circle cx="1260.85" cy="185.36" r="3.90" fill="#2f5672"/>
<circle cx="1260.85" cy="188.85" r="3.90" fill="#305772"/>
<circle cx="1260.85" cy="192.34" r="3.90" fill="#315772"/>
<circle cx="1260.85" cy="195.83" r="3.90" fill="#315872"/>
<circle cx="1260.85" cy="199.32" r="3.90" fill="#325873"/>
<circle cx="1260.85" cy="202.81" r="3.90" fill="#335973"/>
<circle cx="1260.85" cy="206.29" r="3.90" fill="#355a73"/>
<circle cx="1260.85" cy="209.78" r="3.90" fill="#365b74"/>
<circle cx="1260.85" cy="213.27" r="3.90" fill="#375c74"/>
<circle cx="1260.85" cy="216.76" r="3.90" fill="#395d75"/>
<circle cx="1260.85" cy="220.25" r="3.90" fill="#3a5e76"/>
<circle cx="1260.85" cy="223.73" r="3.90" fill="#3b5f77"/>
<circle cx="1260.85" cy="227.22" r="3.90" fill="#3d5f78"/>
<circle cx="1260.85" cy="230.71" r="3.90" fill="#3e6078"/>
<circle cx="1260.85" cy="234.20" r="3.90" fill="#3f6179"/>
<circle cx="1260.85" cy="237.69" r="3.90" fill="#40627a"/>
<circle cx="1260.85" cy="241.18" r="3.90" fill="#42637a"/>
<circle cx="1260.85" cy="244.66" r="3.90" fill="#43647b"/>
<circle cx="1260.85" cy="248.15" r="3.90" fill="#44647c"/>
<circle cx="1474.95" cy="115.60" r="3.90" fill="#1c4b6d"/>
<circle cx="1474.95" cy="119.09" r="3.90" fill="#1c4b6d"/>
<circle cx="1474.95" cy="122.59" r="3.90" fill="#1c4b6d"/>
<circle cx="1474.95" cy="126.08" r="3.90" fill="#1d4b6e"/>
<circle cx="1474.95" cy="129.57" r="3.90" fill="#1d4b6e"/>
<circle cx="1474.95" cy="133.07" r="3.90" fill="#1d4c6e"/>
<circle cx="1474.95" cy="136.56" r="3.90" fill="#1d4c6e"/>
<circle cx="1474.95" cy="140.05" r="3.90" fill="#1d4c6e"/>
<circle cx="1474.95" cy="143.55" r="3.90" fill="#1e4c6e"/>
<circle cx="1474.95" cy="147.04" r="3.90" fill="#1e4d6e"/>
<circle cx="1474.95" cy="150.54" r="3.90" fill="#1f4d6e"/>
<circle cx="1474.95" cy="154.03" r="3.90" fill="#1f4d6f"/>
<circle cx="1474.95" cy="157.52" r="3.90" fill="#204e6f"/>
<circle cx="1474.95" cy="161.02" r="3.90" fill="#204e6f"/>
<circle cx="1474.95" cy="164.51" r="3.90" fill="#214e6f"/>
<circle cx="1474.95" cy="168.01" r="3.90" fill="#214e6f"/>
<circle cx="1474.95" cy="171.50" r="3.90" fill="#224f6f"/>
<circle cx="1474.95" cy="174.99" r="3.90" fill="#224f6f"/>
<circle cx="1474.95" cy="178.49" r="3.90" fill="#224f6f"/>
<circle cx="1474.95" cy="181.98" r="3.90" fill="#234f6f"/>
<circle cx="1474.95" cy="185.47" r="3.90" fill="#235070"/>
<circle cx="1474.95" cy="188.97" r="3.90" fill="#245070"/>
<circle cx="1474.95" cy="192.46" r="3.90" fill="#245070"/>
<circle cx="1474.95" cy="195.96" r="3.90" fill="#255170"/>
<circle cx="1474.95" cy="199.45" r="3.90" fill="#255170"/>
<circle cx="1474.95" cy="202.94" r="3.90" fill="#265170"/>
<circle cx="1474.95" cy="206.44" r="3.90" fill="#295371"/>
<circle cx="1474.95" cy="209.93" r="3.90" fill="#2d5572"/>
<circle cx="1474.95" cy="213.42" r="3.90" fill="#305772"/>
<circle cx="1474.95" cy="216.92" r="3.90" fill="#325973"/>
<circle cx="1474.95" cy="220.41" r="3.90" fill="#355a73"/>
<circle cx="1474.95" cy="223.91" r="3.90" fill="#385c75"/>
<circle cx="1474.95" cy="227.40" r="3.90" fill="#3b5f77"/>
<circle cx="1474.95" cy="230.89" r="3.90" fill="#3f6179"/>
<circle cx="1474.95" cy="234.39" r="3.90" fill="#43647b"/>
<circle cx="1474.95" cy="237.88" r="3.90" fill="#46667d"/>
<circle cx="1474.95" cy="241.38" r="3.90" fill="#4a6980"/>
<circle cx="1474.95" cy="244.87" r="3.90" fill="#4d6b83"/>
<circle cx="1474.95" cy="248.36" r="3.90" fill="#506d85"/>
<circle cx="1474.95" cy="251.86" r="3.90" fill="#536f87"/>
<circle cx="1474.95" cy="255.35" r="3.90" fill="#557089"/>
<circle cx="1474.95" cy="258.84" r="3.90" fill="#58738b"/>
<circle cx="1474.95" cy="262.34" r="3.90" fill="#5b758c"/>
<circle cx="1474.95" cy="265.83" r="3.90" fill="#5f778e"/>
<circle cx="1474.95" cy="269.33" r="3.90" fill="#627a8f"/>
<circle cx="1474.95" cy="272.82" r="3.90" fill="#657c91"/>
<circle cx="1474.95" cy="276.31" r="3.90" fill="#687f92"/>
<circle cx="1474.95" cy="279.81" r="3.90" fill="#6b8194"/>
<circle cx="1474.95" cy="283.30" r="3.90" fill="#6e8395"/>
<circle cx="1474.95" cy="286.79" r="3.90" fill="#718696"/>
<circle cx="1474.95" cy="290.29" r="3.90" fill="#748999"/>
<circle cx="1474.95" cy="293.78" r="3.90" fill="#788c9b"/>
<circle cx="1474.95" cy="297.28" r="3.90" fill="#7b8f9e"/>
<circle cx="1474.95" cy="300.77" r="3.90" fill="#7f92a0"/>
<circle cx="1474.95" cy="304.26" r="3.90" fill="#8294a2"/>
<circle cx="1474.95" cy="307.76" r="3.90" fill="#8496a4"/>
<circle cx="1474.95" cy="311.25" r="3.90" fill="#8698a5"/>
<circle cx="1474.95" cy="314.75" r="3.90" fill="#899aa7"/>
<circle cx="1474.95" cy="318.24" r="3.90" fill="#8b9ba8"/>
<circle cx="1474.95" cy="321.73" r="3.90" fill="#8d9daa"/>
<circle cx="1474.95" cy="325.23" r="3.90" fill="#909fab"/>
<circle cx="1474.95" cy="328.72" r="3.90" fill="#92a1ad"/>
<circle cx="1474.95" cy="332.21" r="3.90" fill="#95a3af"/>
<circle cx="1474.95" cy="335.71" r="3.90" fill="#a4b0ba"/>
<circle cx="1474.95" cy="339.20" r="3.90" fill="#b0b9c2"/>
<circle cx="1474.95" cy="342.70" r="3.90" fill="#b9c0c8"/>
<circle cx="1474.95" cy="346.19" r="3.90" fill="#c3c8cf"/>
<circle cx="1474.95" cy="349.68" r="3.90" fill="#cdd1d6"/>
<circle cx="1474.95" cy="353.18" r="3.90" fill="#d7d9dd"/>
<circle cx="1474.95" cy="356.67" r="3.90" fill="#e0e0e3"/>
<circle cx="1474.95" cy="360.17" r="3.90" fill="#e7e6e7"/>
<circle cx="1474.95" cy="363.66" r="3.90" fill="#eceaea"/>
<circle cx="1474.95" cy="367.15" r="3.90" fill="#efecec"/>
<circle cx="1474.95" cy="370.65" r="3.90" fill="#f2eeed"/>
<circle cx="1474.95" cy="374.14" r="3.90" fill="#f4efee"/>
<circle cx="1474.95" cy="377.63" r="3.90" fill="#f5f0ee"/>
<circle cx="1474.95" cy="381.13" r="3.90" fill="#f5f0ee"/>
<circle cx="1474.95" cy="384.62" r="3.90" fill="#f5f0ee"/>
<circle cx="1474.95" cy="388.12" r="3.90" fill="#f5f0ee"/>
<circle cx="1474.95" cy="391.61" r="3.90" fill="#f5f0ee"/>
<circle cx="1474.95" cy="395.10" r="3.90" fill="#f5f0ee"/>
<circle cx="1474.95" cy="398.60" r="3.90" fill="#f5f0ee"/>
<circle cx="1474.95" cy="402.09" r="3.90" fill="#f5f0ee"/>
<circle cx="1474.95" cy="405.58" r="3.90" fill="#f5f0ee"/>
<circle cx="1474.95" cy="409.08" r="3.90" fill="#f5f0ee"/>
<circle cx="1474.95" cy="412.57" r="3.90" fill="#f5f0ee"/>
<circle cx="1474.95" cy="416.07" r="3.90" fill="#f5f0ee"/>
<circle cx="1474.95" cy="419.56" r="3.90" fill="#f5f0ef"/>
<circle cx="1474.95" cy="423.05" r="3.90" fill="#f5f0ef"/>
<circle cx="1474.95" cy="426.55" r="3.90" fill="#f5f0ef"/>
<circle cx="1474.95" cy="430.04" r="3.90" fill="#f5f0ef"/>
<circle cx="1474.95" cy="433.54" r="3.90" fill="#f5f0ef"/>
<circle cx="1474.95" cy="437.03" r="3.90" fill="#f5f0ef"/>
<circle cx="1474.95" cy="440.52" r="3.90" fill="#f5f0ef"/>
<circle cx="1474.95" cy="444.02" r="3.90" fill="#f5f0ef"/>
<circle cx="1474.95" cy="447.51" r="3.90" fill="#f5f0ef"/>
</g>
<rect x="1038.50" y="115.50" width="458.00" height="333.00" fill="none" stroke="#000" stroke-width="1.10"/>
<line x1="1059.30" y1="448.50" x2="1059.30" y2="453.40" stroke="#000" stroke-width="1.10"/>
<line x1="1176.30" y1="448.50" x2="1176.30" y2="453.40" stroke="#000" stroke-width="1.10"/>
<line x1="1293.30" y1="448.50" x2="1293.30" y2="453.40" stroke="#000" stroke-width="1.10"/>
<line x1="1410.30" y1="448.50" x2="1410.30" y2="453.40" stroke="#000" stroke-width="1.10"/>
<line x1="1033.60" y1="182.40" x2="1038.50" y2="182.40" stroke="#000" stroke-width="1.10"/>
<line x1="1033.60" y1="252.35" x2="1038.50" y2="252.35" stroke="#000" stroke-width="1.10"/>
<line x1="1033.60" y1="322.30" x2="1038.50" y2="322.30" stroke="#000" stroke-width="1.10"/>
<line x1="1033.60" y1="392.25" x2="1038.50" y2="392.25" stroke="#000" stroke-width="1.10"/>
<text x="295.30" y="21.80" font-size="22.22" letter-spacing="0.0205">transect_6-2021-10-05: bias: 1.6&#160;&#160;corr: 0.6&#160;&#160;ioa: 0.4&#160;&#160;mse: 3.2&#160;&#160;ss: -3.3&#160;&#160;rmse: 1.8</text>
<text x="557.45" y="48.70" font-size="22.22" letter-spacing="0.0409">2021-10-05 lon: -151.93 lat: 59.21</text>
<text x="570.45" y="74.70" font-size="22.22" letter-spacing="0.0617">Gwa: Salinity from CTD transect</text>
<text x="252.45" y="106.70" font-size="22.22" letter-spacing="0.0350">Observation</text>
<text x="760.45" y="106.70" font-size="22.22" letter-spacing="0.0250">CIOFS</text>
<text x="1200.45" y="106.70" font-size="22.22" letter-spacing="0.1550">Obs - Model</text>
<text x="69.88" y="134.00" font-size="19.44">0</text>
<text x="40.80" y="197.80" font-size="19.44" letter-spacing="-0.1750">−20</text>
<text x="40.80" y="261.60" font-size="19.44" letter-spacing="-0.1750">−40</text>
<text x="40.80" y="325.40" font-size="19.44" letter-spacing="-0.1750">−60</text>
<text x="40.80" y="389.20" font-size="19.44" letter-spacing="-0.1750">−80</text>
<text x="28.90" y="453.00" font-size="19.44" letter-spacing="-0.2000">−100</text>
<text x="106.77" y="472.80" font-size="19.44">0</text>
<text x="223.53" y="472.80" font-size="19.44">1</text>
<text x="340.90" y="472.80" font-size="19.44">2</text>
<text x="457.48" y="472.80" font-size="19.44">3</text>
<text x="179.25" y="497.80" font-size="19.44" letter-spacing="0.0574">along-transect distance [km]</text>
<text x="579.77" y="472.80" font-size="19.44">0</text>
<text x="697.23" y="472.80" font-size="19.44">1</text>
<text x="813.90" y="472.80" font-size="19.44">2</text>
<text x="930.77" y="472.80" font-size="19.44">3</text>
<text x="652.85" y="497.80" font-size="19.44" letter-spacing="0.0574">along-transect distance [km]</text>
<text x="1052.77" y="472.80" font-size="19.44">0</text>
<text x="1168.92" y="472.80" font-size="19.44">1</text>
<text x="1286.90" y="472.80" font-size="19.44">2</text>
<text x="1403.77" y="472.80" font-size="19.44">3</text>
<text x="1125.85" y="497.80" font-size="19.44" letter-spacing="0.0574">along-transect distance [km]</text>
<text x="348.20" y="569.70" font-size="19.44">29.5</text>
<text x="430.60" y="569.70" font-size="19.44" letter-spacing="-0.1667">30.0</text>
<text x="513.00" y="569.70" font-size="19.44">30.5</text>
<text x="595.40" y="569.70" font-size="19.44" letter-spacing="-0.1667">31.0</text>
<text x="677.80" y="569.70" font-size="19.44">31.5</text>
<text x="760.20" y="569.70" font-size="19.44" letter-spacing="-0.1667">32.0</text>
<text x="441.75" y="593.90" font-size="19.44" letter-spacing="0.0326">Sea water salinity [psu]</text>
<text x="1083.00" y="568.70" font-size="19.44" letter-spacing="-0.2500">−2</text>
<text x="1167.70" y="568.70" font-size="19.44" letter-spacing="-1.4000">−1</text>
<text x="1260.88" y="568.70" font-size="19.44">0</text>
<text x="1345.62" y="568.70" font-size="19.44">1</text>
<text x="1431.00" y="568.70" font-size="19.44">2</text>
<text x="1099.55" y="593.30" font-size="19.44" letter-spacing="0.0368">Sea water salinity [psu] difference</text>
<text transform="translate(18.10,331.80) rotate(-90)" font-size="19.44" letter-spacing="-0.0687">Depth [m]</text>
<rect x="325.5" y="522.5" width="465" height="23" fill="url(#gh)" stroke="#000" stroke-width="1.10"/>
<line x1="370.50" y1="545.5" x2="370.50" y2="550.40" stroke="#000" stroke-width="1.10"/>
<line x1="452.90" y1="545.5" x2="452.90" y2="550.40" stroke="#000" stroke-width="1.10"/>
<line x1="535.30" y1="545.5" x2="535.30" y2="550.40" stroke="#000" stroke-width="1.10"/>
<line x1="617.70" y1="545.5" x2="617.70" y2="550.40" stroke="#000" stroke-width="1.10"/>
<line x1="700.10" y1="545.5" x2="700.10" y2="550.40" stroke="#000" stroke-width="1.10"/>
<line x1="782.50" y1="545.5" x2="782.50" y2="550.40" stroke="#000" stroke-width="1.10"/>
<rect x="1038.5" y="522.5" width="458" height="22" fill="url(#gd)" stroke="#000" stroke-width="1.10"/>
<line x1="1097.40" y1="544.5" x2="1097.40" y2="549.40" stroke="#000" stroke-width="1.10"/>
<line x1="1182.40" y1="544.5" x2="1182.40" y2="549.40" stroke="#000" stroke-width="1.10"/>
<line x1="1267.40" y1="544.5" x2="1267.40" y2="549.40" stroke="#000" stroke-width="1.10"/>
<line x1="1352.40" y1="544.5" x2="1352.40" y2="549.40" stroke="#000" stroke-width="1.10"/>
<line x1="1437.40" y1="544.5" x2="1437.40" y2="549.40" stroke="#000" stroke-width="1.10"/>
</svg></body></html>
